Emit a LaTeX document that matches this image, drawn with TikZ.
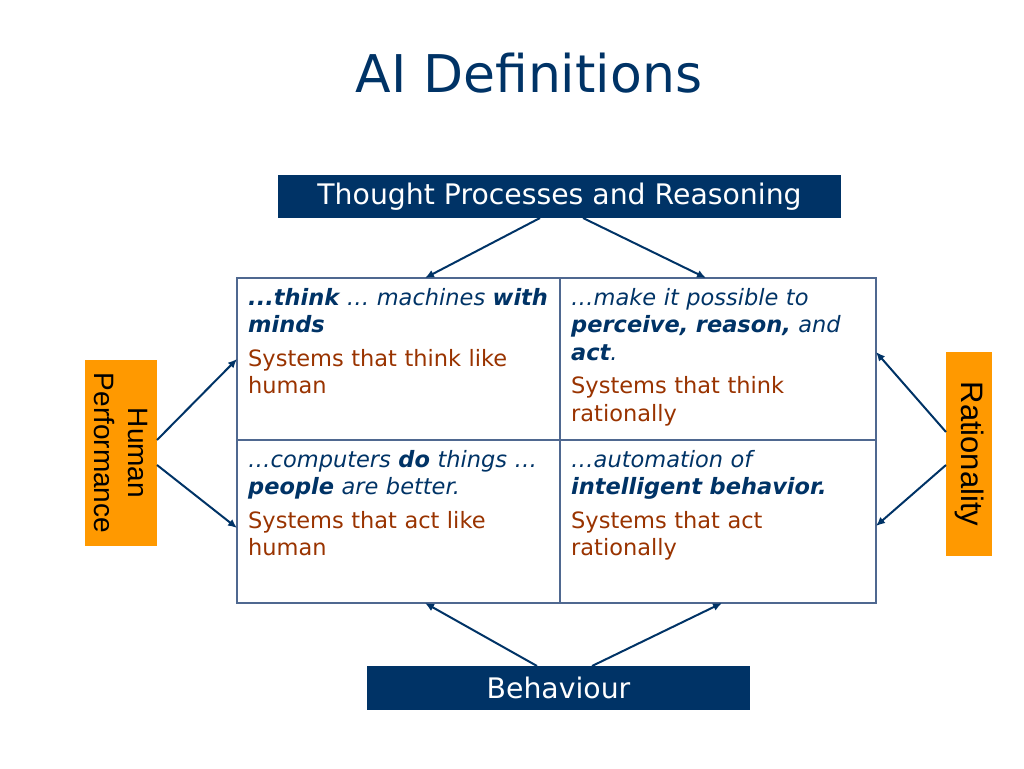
\documentclass[tikz,border=0pt]{standalone}
\usepackage{fontspec}
\setmainfont{DejaVu Sans}
\newfontfamily\arialfont{Liberation Sans}
\usetikzlibrary{shapes}
\usetikzlibrary{arrows.meta}
\definecolor{navy}{HTML}{003366}
\definecolor{brick}{HTML}{993300}
\definecolor{gridblue}{HTML}{4F6890}
\definecolor{amber}{HTML}{FF9900}

\begin{document}
\begin{tikzpicture}[x=1pt,y=-1pt]
			\tikzstyle{banner}=[rectangle,fill=navy,text=white,inner sep=0,outer sep=0,font=\fontsize{28.3}{30}\selectfont]
			\tikzstyle{axis}=[rectangle,fill=amber,text=black,inner sep=0,outer sep=0,rotate=-90,align=center]
			\tikzstyle{cell}=[rectangle,draw=gridblue,line width=1.2pt,inner sep=0,outer sep=0]
			\tikzstyle{quote}=[anchor=north west,inner sep=0,text width=330,align=left,font=\fontsize{22.5}{27.5}\selectfont]
			\tikzstyle{link}=[draw=navy,line width=2pt,-{Latex[length=9pt,width=8pt]}]

			\useasboundingbox (0,0) rectangle (1024,768);
			\node[text=navy,anchor=base,inner sep=0,font=\fontsize{52}{60}\selectfont] (title) at (529,92) {AI Definitions};

			% headings round the grid
			\node[banner,minimum width=563,minimum height=43] (thought) at (559.5,196.5) {Thought Processes and Reasoning};
			\node[banner,minimum width=383,minimum height=44] (behave) at (558.5,688) {Behaviour};
			\node[axis,minimum width=186,minimum height=72,font=\arialfont\fontsize{28}{34}\selectfont] (human) at (121,453) {Human\\Performance};
			\node[axis,minimum width=204,minimum height=46,font=\arialfont\fontsize{31}{34}\selectfont] (ratio) at (969,454) {Rationality};

			% the four cells
			\node[cell,minimum width=323,minimum height=162] (tl) at (398.5,359) {};
			\node[cell,minimum width=316,minimum height=162] (tr) at (718,359) {};
			\node[cell,minimum width=323,minimum height=163] (bl) at (398.5,521.5) {};
			\node[cell,minimum width=316,minimum height=163] (br) at (718,521.5) {};

			\node[quote] (tltext) at (248,285.75) {{\color{navy}\itshape\strut\textbf{...think} … machines \textbf{with}\\\textbf{minds}\par}\vspace{6pt}{\color{brick}Systems that think like\\human\par}};
			\node[quote] (trtext) at (571,285.75) {{\color{navy}\itshape\strut…make it possible to\\\textbf{perceive, reason,} and\\\textbf{act}.\par}\vspace{6pt}{\color{brick}Systems that think\\rationally\par}};
			\node[quote] (bltext) at (248,447.75) {{\color{navy}\itshape\strut…computers \textbf{do} things …\\\textbf{people} are better.\par}\vspace{6pt}{\color{brick}Systems that act like\\human\par}};
			\node[quote] (brtext) at (571,447.75) {{\color{navy}\itshape\strut…automation of\\\textbf{intelligent behavior.}\par}\vspace{6pt}{\color{brick}Systems that act\\rationally\par}};

			% arrows
			\draw[link] ([xshift=-19.5pt]thought.south) -- ([xshift=26.5pt]tl.north);
			\draw[link] ([xshift=23.5pt]thought.south) -- ([xshift=-12pt]tr.north);
			\draw[link] ([yshift=13pt]human.north) -- (tl.west);
			\draw[link] ([yshift=-12pt]human.north) -- ([yshift=-6.5pt]bl.west);
			\draw[link] ([yshift=22pt]ratio.south) -- ([yshift=7pt]tr.east);
			\draw[link] ([yshift=-11pt]ratio.south) -- ([yshift=-4.5pt]br.east);
			\draw[link] ([xshift=-21.5pt]behave.north) -- ([xshift=26.5pt]bl.south);
			\draw[link] ([xshift=33.5pt]behave.north) -- ([xshift=4pt]br.south);
\end{tikzpicture}
\end{document}
